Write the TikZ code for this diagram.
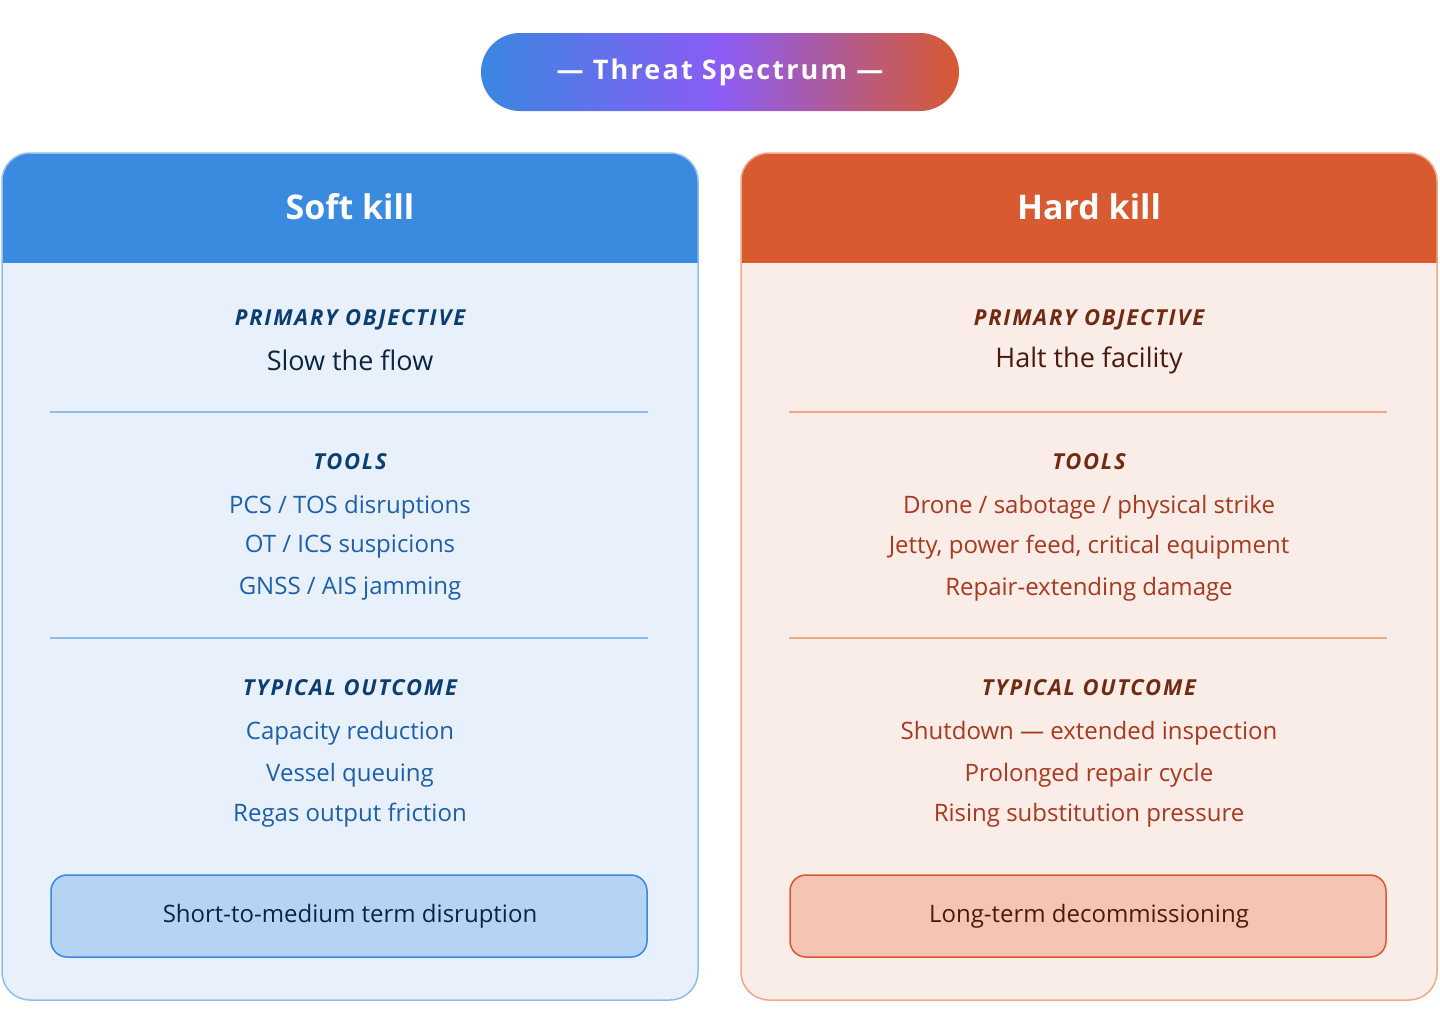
\documentclass[tikz,border=0pt]{standalone}
\usepackage{fontspec}
\setmainfont{Open Sans}
\newfontfamily\spaced[LetterSpace=8]{Open Sans}
\usetikzlibrary{positioning}
\definecolor{bhead}{HTML}{3A8AE0}\definecolor{bbody}{HTML}{E8F1FB}\definecolor{bline}{HTML}{8FBDEB}
\definecolor{blab}{HTML}{0C3D73}\definecolor{bitem}{HTML}{1C5FAD}\definecolor{bobj}{HTML}{0A2540}
\definecolor{bbox}{HTML}{B5D4F4}\definecolor{bboxd}{HTML}{3A86E0}
\definecolor{rhead}{HTML}{D85A30}\definecolor{rbody}{HTML}{FAECE7}\definecolor{rline}{HTML}{F0A888}
\definecolor{rlab}{HTML}{712B13}\definecolor{ritem}{HTML}{A8381E}\definecolor{robj}{HTML}{4A1B0C}
\definecolor{rbox}{HTML}{F5C4B3}\definecolor{rboxd}{HTML}{D85A30}
\definecolor{purp}{HTML}{8B5CF6}
\pgfdeclarehorizontalshading{threat2}{100bp}{color(0bp)=(bboxd);color(25bp)=(bboxd);color(50bp)=(purp);color(75bp)=(rhead);color(100bp)=(rhead)}
\tikzset{
 lab/.style={font=\spaced\fontsize{22}{26}\selectfont\bfseries\itshape},
 item/.style={font=\fontsize{24}{28}\selectfont},
 head/.style={font=\fontsize{34}{40}\selectfont\bfseries,text=white},
}
\begin{document}
\begin{tikzpicture}[x=1pt,y=-1pt]
\useasboundingbox (0,0) rectangle (1440,1034);
\shade[shading=threat2,rounded corners=39] (481,33) rectangle (959,111);
\node[font=\spaced\fontsize{27}{32}\selectfont\bfseries,text=white] (pill) at (720,72) {— Threat Spectrum —};
\foreach \x/\p/\tt/\ob/\ia/\ib/\ic/\oa/\obb/\oc/\bx in
 {2/b/Soft kill/Slow the flow/PCS \slash{} TOS disruptions/OT \slash{} ICS suspicions/GNSS \slash{} AIS jamming/Capacity reduction/Vessel queuing/Regas output friction/Short-to-medium term disruption,
  741/r/Hard kill/Halt the facility/Drone \slash{} sabotage \slash{} physical strike/{Jetty, power feed, critical equipment}/Repair-extending damage/Shutdown — extended inspection/Prolonged repair cycle/Rising substitution pressure/Long-term decommissioning}{
 \begin{scope}
  \clip[rounded corners=28] (\x,153) rectangle (\x+696,1000);
  \fill[\p body] (\x,153) rectangle (\x+696,1000);
  \fill[\p head] (\x,153) rectangle (\x+696,263);
 \end{scope}
 \draw[\p line,line width=1.5pt,rounded corners=28] (\x,153) rectangle (\x+696,1000);
 \node[head] (h\p) at (\x+348,207) {\tt};
 \node[lab,text=\p lab] (l1\p) at (\x+348,320) {PRIMARY OBJECTIVE};
 \node[text=\p obj,font=\fontsize{27}{32}\selectfont] (o\p) at (\x+348,360) {\ob};
 \draw[\p line,line width=1.2pt] (\x+48,412) -- (\x+646,412);
 \node[lab,text=\p lab] (l2\p) at (\x+348,462) {TOOLS};
 \node[item,text=\p item] (ia\p) at (\x+348,507) {\ia};
 \node[item,text=\p item] (ib\p) at (\x+348,547) {\ib};
 \node[item,text=\p item] (ic\p) at (\x+348,589) {\ic};
 \draw[\p line,line width=1.2pt] (\x+48,638) -- (\x+646,638);
 \node[lab,text=\p lab] (l3\p) at (\x+348,688) {TYPICAL OUTCOME};
 \node[item,text=\p item] (oa\p) at (\x+348,733) {\oa};
 \node[item,text=\p item] (ob\p) at (\x+348,775) {\obb};
 \node[item,text=\p item] (oc\p) at (\x+348,815) {\oc};
 \draw[fill=\p box,draw=\p boxd,line width=1.5pt,rounded corners=16] (\x+49,875) rectangle (\x+645,957);
 \node[text=\p obj,font=\fontsize{24}{28}\selectfont] (bx\p) at (\x+348,916) {\bx};
}
\end{tikzpicture}
\end{document}
